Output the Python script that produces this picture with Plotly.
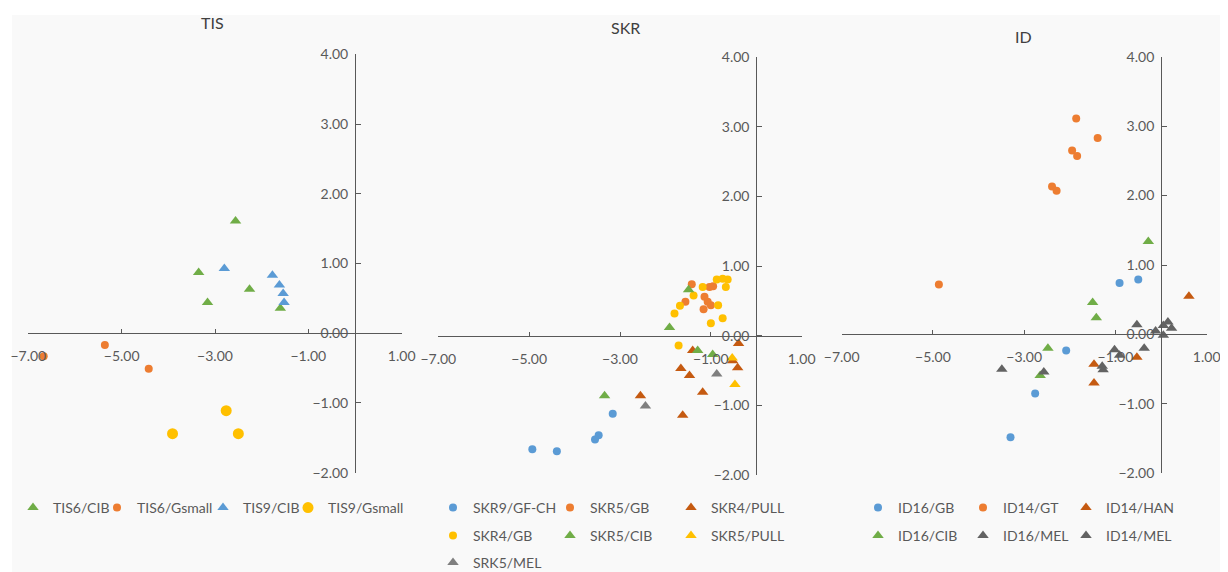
import plotly.graph_objects as go

# ---------------- data ----------------
# TIS panel
tis6_cib_x = [-2.56, -3.35, -3.16, -2.26, -1.60]
tis6_cib_y = [1.61, 0.87, 0.44, 0.63, 0.36]
tis6_gsmall_x = [-6.67, -5.36, -4.42]
tis6_gsmall_y = [-0.33, -0.17, -0.51]
tis9_cib_x = [-2.80, -1.77, -1.62, -1.54, -1.52]
tis9_cib_y = [0.93, 0.83, 0.69, 0.57, 0.44]
tis9_gsmall_x = [-2.76, -3.91, -2.50]
tis9_gsmall_y = [-1.11, -1.44, -1.44]

# SKR panel
skr9_gfch_x = [-3.16, -3.47, -3.55, -4.93, -4.39]
skr9_gfch_y = [-1.12, -1.43, -1.49, -1.63, -1.66]
skr5_gb_x = [-1.42, -1.03, -0.95, -1.56, -1.14, -1.07, -1.00, -1.16]
skr5_gb_y = [0.74, 0.70, 0.71, 0.49, 0.56, 0.49, 0.44, 0.38]
skr4_pull_x = [-0.39, -1.40, -0.52, -0.41, -1.66, -1.47, -1.18, -1.62, -2.55]
skr4_pull_y = [-0.11, -0.21, -0.36, -0.46, -0.47, -0.57, -0.81, -1.14, -0.86]
skr4_gb_x = [-0.87, -0.74, -0.63, -0.67, -1.18, -1.38, -1.68, -1.80, -0.84, -1.00, -0.74, -1.71]
skr4_gb_y = [0.81, 0.82, 0.81, 0.70, 0.70, 0.58, 0.43, 0.32, 0.44, 0.18, 0.25, -0.14]
skr5_cib_x = [-1.49, -1.91, -1.29, -0.96, -3.34]
skr5_cib_y = [0.66, 0.12, -0.21, -0.27, -0.86]
skr5_pull_x = [-0.53, -0.47]
skr5_pull_y = [-0.32, -0.70]
srk5_mel_x = [-0.87, -2.44]
srk5_mel_y = [-0.55, -1.01]

# ID panel
id16_gb_x = [-0.91, -0.50, -2.08, -2.76, -3.30]
id16_gb_y = [0.74, 0.79, -0.23, -0.85, -1.48]
id14_gt_x = [-1.86, -1.39, -1.95, -1.84, -2.39, -2.29, -4.87]
id14_gt_y = [3.11, 2.83, 2.65, 2.57, 2.13, 2.07, 0.72]
id14_han_x = [0.61, -0.53, -1.47, -1.47]
id14_han_y = [0.55, -0.33, -0.43, -0.70]
id16_cib_x = [-1.50, -1.42, -2.48, -2.65, -0.28]
id16_cib_y = [0.46, 0.24, -0.20, -0.59, 1.34]
id16_mel_x = [-3.49, -2.57, -1.02, -0.91, -1.29, -1.27]
id16_mel_y = [-0.50, -0.54, -0.22, -0.30, -0.46, -0.51]
id14_mel_x = [-0.53, -0.37, -0.12, 0.05, 0.15, 0.23, 0.05]
id14_mel_y = [0.14, -0.20, 0.05, 0.13, 0.18, 0.09, -0.01]

panel_titles = ["TIS", "SKR", "ID"]
x_ticks = [-7, -5, -3, -1, 1]
y_ticks = [-2, -1, 0, 1, 2, 3, 4]

# ---------------- styling ----------------
W, H = 1228, 572
OFF = 8  # page body margin
BLUE = "#5B9BD5"
ORANGE = "#ED7D31"
GOLD = "#FFC000"
GREEN = "#70AD47"
DKORANGE = "#C55A11"
GREY = "#7F7F7F"
DKGREY = "#636363"
AXC = "#595959"
FONT = "Lato"


def fx(p):
    return (p - OFF) / W


def fy(p):
    return 1 - (p - OFF) / H


# panel pixel geometry: (x of -7, x of 1, y of 4, y of -2)
geom = [(28.3, 401.7, 54.3, 472.7),
        (438.3, 801.7, 57.3, 475.0),
        (841.7, 1206.7, 56.7, 473.3)]

series = [
    # name, x, y, panel, symbol, color, size, legend marker px, legend row py
    ("TIS6/CIB", tis6_cib_x, tis6_cib_y, 0, "triangle-up", GREEN, 10, 37, 508),
    ("TIS6/Gsmall", tis6_gsmall_x, tis6_gsmall_y, 0, "circle", ORANGE, 8, 121, 508),
    ("TIS9/CIB", tis9_cib_x, tis9_cib_y, 0, "triangle-up", BLUE, 10, 227, 508),
    ("TIS9/Gsmall", tis9_gsmall_x, tis9_gsmall_y, 0, "circle", GOLD, 11, 312, 508),
    ("SKR9/GF-CH", skr9_gfch_x, skr9_gfch_y, 1, "circle", BLUE, 8, 457, 508),
    ("SKR5/GB", skr5_gb_x, skr5_gb_y, 1, "circle", ORANGE, 8, 574, 508),
    ("SKR4/PULL", skr4_pull_x, skr4_pull_y, 1, "triangle-up", DKORANGE, 10, 695, 508),
    ("SKR4/GB", skr4_gb_x, skr4_gb_y, 1, "circle", GOLD, 8, 457, 536),
    ("SKR5/CIB", skr5_cib_x, skr5_cib_y, 1, "triangle-up", GREEN, 10, 574, 536),
    ("SKR5/PULL", skr5_pull_x, skr5_pull_y, 1, "triangle-up", GOLD, 10, 695, 536),
    ("SRK5/MEL", srk5_mel_x, srk5_mel_y, 1, "triangle-up", GREY, 10, 457, 563),
    ("ID16/GB", id16_gb_x, id16_gb_y, 2, "circle", BLUE, 8, 882, 508),
    ("ID14/GT", id14_gt_x, id14_gt_y, 2, "circle", ORANGE, 8, 987, 508),
    ("ID14/HAN", id14_han_x, id14_han_y, 2, "triangle-up", DKORANGE, 10, 1090, 508),
    ("ID16/CIB", id16_cib_x, id16_cib_y, 2, "triangle-up", GREEN, 10, 882, 536),
    ("ID16/MEL", id16_mel_x, id16_mel_y, 2, "triangle-up", DKGREY, 10, 987, 536),
    ("ID14/MEL", id14_mel_x, id14_mel_y, 2, "triangle-up", DKGREY, 10, 1090, 536),
]

fig = go.Figure()
layout = dict(
    template="none",
    width=W, height=H,
    margin=dict(l=0, r=0, t=0, b=0, pad=0, autoexpand=False),
    paper_bgcolor="white",
    plot_bgcolor="rgba(0,0,0,0)",
    font=dict(family=FONT, size=13, color=AXC),
    showlegend=True,
    annotations=[],
    shapes=[dict(type="rect", xref="paper", yref="paper", x0=fx(12), x1=fx(1222),
                 y0=0, y1=fy(15), fillcolor="#F9F9F9", line=dict(width=0),
                 layer="below")],
)

title_pos = [(212, 22), (625, 27), (1023, 36)]

for i, (xl, xr, yt, yb) in enumerate(geom):
    sfx = "" if i == 0 else str(i + 1)
    xdom = [fx(xl), fx(xr)]
    ydom = [fy(yb), fy(yt)]
    x0px = xl + 7 / 8 * (xr - xl)
    y0px = yt + 4 / 6 * (yb - yt)
    layout["xaxis" + sfx] = dict(
        domain=xdom, range=[-7, 1], anchor="free", position=fy(y0px),
        tickvals=x_ticks, tickformat=".2f", ticks="inside", ticklen=4,
        tickcolor=AXC, showline=True, linecolor=AXC, linewidth=1,
        showgrid=False, zeroline=False, ticklabelstandoff=10, automargin=False,
        tickfont=dict(family=FONT, size=14, color=AXC), fixedrange=True,
    )
    layout["yaxis" + sfx] = dict(
        domain=ydom, range=[-2, 4], anchor="free", position=fx(x0px),
        tickvals=y_ticks, tickformat=".2f", ticks="inside", ticklen=5,
        tickcolor=AXC, showline=True, linecolor=AXC, linewidth=1,
        showgrid=False, zeroline=False, ticklabelstandoff=4, automargin=False,
        tickfont=dict(family=FONT, size=14, color=AXC), fixedrange=True,
    )
    tx, ty = title_pos[i]
    layout["annotations"].append(dict(
        text=panel_titles[i], xref="paper", yref="paper", x=fx(tx), y=fy(ty),
        xanchor="center", yanchor="middle", showarrow=False,
        font=dict(family=FONT, size=16, color="#404040")))

for k, (name, xs, ys, p, sym, col, sz, lx, ly) in enumerate(series):
    sfx = "" if p == 0 else str(p + 1)
    lname = "legend" if k == 0 else "legend" + str(k + 1)
    fig.add_trace(go.Scatter(
        x=xs, y=ys, mode="markers", name=name,
        xaxis="x" + sfx, yaxis="y" + sfx, legend=lname,
        marker=dict(symbol=sym, color=col, size=sz, line=dict(width=0)),
        cliponaxis=False,
    ))
    layout[lname] = dict(
        x=fx(lx - 24), y=fy(ly), xanchor="left", yanchor="middle",
        bgcolor="rgba(0,0,0,0)", borderwidth=0, orientation="v",
        font=dict(family=FONT, size=14, color=AXC),
        itemwidth=30, itemclick=False, itemdoubleclick=False,
    )

fig.update_layout(**layout)
fig.write_html("out.html")
